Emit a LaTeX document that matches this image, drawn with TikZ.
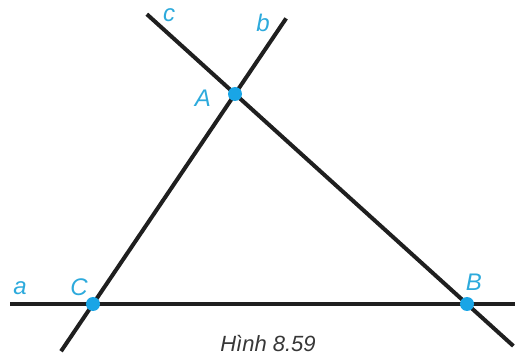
\documentclass[tikz,border=0pt]{standalone}
\usepackage{fontspec}
\setmainfont{Liberation Sans}
\usetikzlibrary{calc, positioning}
\definecolor{ptblue}{RGB}{25,165,230}
\definecolor{lblblue}{RGB}{45,170,220}
\definecolor{capgray}{RGB}{55,55,55}

\begin{document}
\begin{tikzpicture}[x = 1pt, y = -1pt,
    ln/.style = {line width=4pt, black!88},
    pt/.style = {circle, fill=ptblue, inner sep=0pt, minimum size=14pt},
    lbl/.style = {text=lblblue, inner sep=0pt, font=\fontsize{24}{26}\selectfont\itshape}]
    \useasboundingbox (0,0) rectangle (515,358);

    % the three points
    \coordinate (A) at (235,94);
    \coordinate (B) at (467,304);
    \coordinate (C) at (93,304);

    % lines a, b, c
    \draw[ln] (10,304) coordinate (a0) -- (515,304) coordinate (a1);
    \draw[ln] ($(C)!-0.225!(A)$) coordinate (b0) -- ($(C)!1.36!(A)$) coordinate (b1);
    \draw[ln] ($(A)!-0.38!(B)$) coordinate (c0) -- ($(A)!1.2!(B)$) coordinate (c1);

    \node[pt] (dotA) at (A) {};
    \node[pt] (dotB) at (B) {};
    \node[pt] (dotC) at (C) {};

    % labels
    \node[lbl] (lA) at (203,98) {A};
    \node[lbl] (lB) at (474,282) {B};
    \node[lbl] (lC) at (79,287) {C};
    \node[lbl] (la) at (20,288) {a};
    \node[lbl] (lb) at (263,23) {b};
    \node[lbl] (lc) at (169,15) {c};

    \node[text=capgray, inner sep=0pt, font=\fontsize{22}{24}\selectfont\itshape] (cap) at (268,344) {Hình 8.59};
\end{tikzpicture}
\end{document}
